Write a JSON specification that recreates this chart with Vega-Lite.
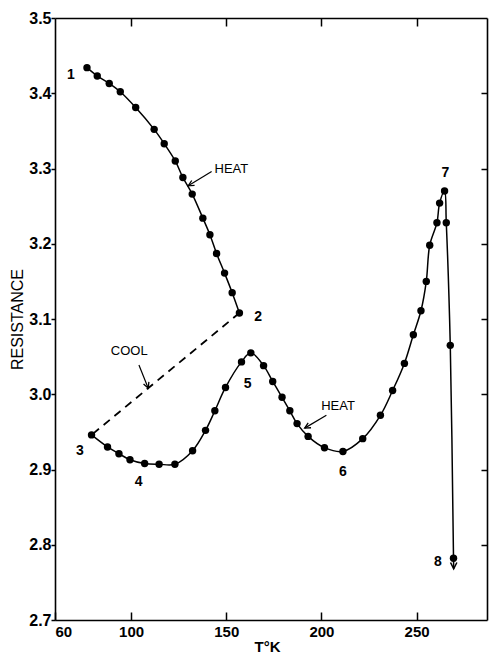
{
  "$schema": "https://vega.github.io/schema/vega-lite/v6.json",
  "width": 432,
  "height": 602,
  "autosize": "none",
  "padding": {"left": 55, "top": 18, "right": 2, "bottom": 34},
  "background": "white",
  "config": {
    "view": {"stroke": null},
    "axis": {
      "domainColor": "black", "domainWidth": 1.6,
      "tickColor": "black", "tickWidth": 1.5,
      "grid": false,
      "labelFont": "Liberation Sans", "labelFontSize": 15, "labelFontWeight": "bold", "labelColor": "black",
      "titleFont": "Liberation Sans", "titleFontSize": 15, "titleColor": "black", "titleFontWeight": "normal"
    }
  },
  "datasets": {
    "pts": [
      {"seg": "a", "i": 1, "T": 76.8, "R": 3.434, "dot": true},
      {"seg": "a", "i": 2, "T": 82.2, "R": 3.423, "dot": true},
      {"seg": "a", "i": 3, "T": 88.5, "R": 3.413, "dot": true},
      {"seg": "a", "i": 4, "T": 94.3, "R": 3.402, "dot": true},
      {"seg": "a", "i": 5, "T": 102.4, "R": 3.381, "dot": true},
      {"seg": "a", "i": 6, "T": 112.1, "R": 3.352, "dot": true},
      {"seg": "a", "i": 7, "T": 117.4, "R": 3.333, "dot": true},
      {"seg": "a", "i": 8, "T": 123.2, "R": 3.310, "dot": true},
      {"seg": "a", "i": 9, "T": 127.2, "R": 3.288, "dot": true},
      {"seg": "a", "i": 10, "T": 132.1, "R": 3.266, "dot": true},
      {"seg": "a", "i": 11, "T": 137.7, "R": 3.234, "dot": true},
      {"seg": "a", "i": 12, "T": 141.4, "R": 3.212, "dot": true},
      {"seg": "a", "i": 13, "T": 144.9, "R": 3.187, "dot": true},
      {"seg": "a", "i": 14, "T": 149.1, "R": 3.161, "dot": true},
      {"seg": "a", "i": 15, "T": 153.1, "R": 3.135, "dot": true},
      {"seg": "a", "i": 16, "T": 156.9, "R": 3.108, "dot": true},
      {"seg": "b", "i": 17, "T": 79.2, "R": 2.946, "dot": true},
      {"seg": "b", "i": 18, "T": 87.6, "R": 2.930, "dot": true},
      {"seg": "b", "i": 19, "T": 93.6, "R": 2.921, "dot": true},
      {"seg": "b", "i": 20, "T": 99.4, "R": 2.913, "dot": true},
      {"seg": "b", "i": 21, "T": 107.1, "R": 2.908, "dot": true},
      {"seg": "b", "i": 22, "T": 114.7, "R": 2.907, "dot": true},
      {"seg": "b", "i": 23, "T": 123.0, "R": 2.907, "dot": true},
      {"seg": "b", "i": 24, "T": 132.3, "R": 2.925, "dot": true},
      {"seg": "b", "i": 25, "T": 139.1, "R": 2.952, "dot": true},
      {"seg": "b", "i": 26, "T": 144.0, "R": 2.978, "dot": true},
      {"seg": "b", "i": 27, "T": 149.6, "R": 3.009, "dot": true},
      {"seg": "b", "i": 28, "T": 158.0, "R": 3.043, "dot": true},
      {"seg": "b", "i": 29, "T": 162.9, "R": 3.055, "dot": true},
      {"seg": "b", "i": 30, "T": 169.6, "R": 3.038, "dot": true},
      {"seg": "b", "i": 31, "T": 174.4, "R": 3.017, "dot": true},
      {"seg": "b", "i": 32, "T": 179.3, "R": 2.996, "dot": true},
      {"seg": "b", "i": 33, "T": 183.4, "R": 2.978, "dot": true},
      {"seg": "b", "i": 34, "T": 187.2, "R": 2.961, "dot": true},
      {"seg": "b", "i": 35, "T": 193.0, "R": 2.944, "dot": true},
      {"seg": "b", "i": 36, "T": 201.6, "R": 2.929, "dot": true},
      {"seg": "b", "i": 37, "T": 211.3, "R": 2.924, "dot": true},
      {"seg": "b", "i": 38, "T": 221.7, "R": 2.941, "dot": true},
      {"seg": "b", "i": 39, "T": 231.0, "R": 2.972, "dot": true},
      {"seg": "b", "i": 40, "T": 237.4, "R": 3.005, "dot": true},
      {"seg": "b", "i": 41, "T": 243.6, "R": 3.041, "dot": true},
      {"seg": "b", "i": 42, "T": 248.3, "R": 3.079, "dot": true},
      {"seg": "b", "i": 43, "T": 252.3, "R": 3.111, "dot": true},
      {"seg": "b", "i": 44, "T": 255.1, "R": 3.150, "dot": true},
      {"seg": "b", "i": 45, "T": 256.9, "R": 3.198, "dot": true},
      {"seg": "b", "i": 46, "T": 260.7, "R": 3.228, "dot": true},
      {"seg": "b", "i": 47, "T": 262.1, "R": 3.254, "dot": true},
      {"seg": "b", "i": 48, "T": 264.7, "R": 3.270, "dot": true},
      {"seg": "b", "i": 49, "T": 265.6, "R": 3.228, "dot": true},
      {"seg": "b", "i": 50, "T": 267.7, "R": 3.065, "dot": true},
      {"seg": "b", "i": 51, "T": 269.4, "R": 2.782, "dot": true},
      {"seg": "b", "i": 52, "T": 269.5, "R": 2.768, "dot": false}
    ],
    "cool": [
      {"i": 1, "T": 156.9, "R": 3.108},
      {"i": 2, "T": 79.2, "R": 2.946}
    ],
    "nums": [
      {"t": "1", "T": 68.4, "R": 3.424},
      {"t": "2", "T": 166.7, "R": 3.102},
      {"t": "3", "T": 73.1, "R": 2.924},
      {"t": "4", "T": 104.0, "R": 2.883},
      {"t": "5", "T": 161.2, "R": 3.014},
      {"t": "6", "T": 211.3, "R": 2.897},
      {"t": "7", "T": 265.1, "R": 3.294},
      {"t": "8", "T": 261.2, "R": 2.777}
    ],
    "words": [
      {"a": "h1", "t": "HEAT", "T": 152.7, "R": 3.300, "T0": 142.3, "R0": 3.296, "T2": 130.0, "R2": 3.277},
      {"a": "c", "t": "COOL", "T": 99.0, "R": 3.058, "T0": 104.1, "R0": 3.039, "T2": 109.0, "R2": 3.008},
      {"a": "h2", "t": "HEAT", "T": 208.7, "R": 2.984, "T0": 202.6, "R0": 2.972, "T2": 191.2, "R2": 2.955}
    ]
  },
  "layer": [
    {
      "data": {"name": "pts"},
      "mark": {"type": "line", "interpolate": "catmull-rom", "color": "black", "strokeWidth": 1.5},
      "encoding": {
        "x": {"field": "T", "type": "quantitative", "scale": {"domain": [60, 287], "nice": false, "zero": false},
          "axis": {"orient": "bottom", "values": [60, 100, 150, 200, 250], "tickSize": -8, "labelPadding": 12, "title": "T°K", "titleFontSize": 15, "titleFontWeight": "bold", "titlePadding": 0, "titleX": 212}},
        "y": {"field": "R", "type": "quantitative", "scale": {"domain": [2.7, 3.5], "nice": false, "zero": false},
          "axis": {"orient": "left", "values": [2.7, 2.8, 2.9, 3.0, 3.1, 3.2, 3.3, 3.4, 3.5], "format": ".1f", "labelFontSize": 16, "tickSize": 4, "labelPadding": 0, "title": "RESISTANCE", "titleFontSize": 16, "titlePadding": 3}},
        "detail": {"field": "seg"},
        "order": {"field": "i"}
      }
    },
    {
      "data": {"name": "pts"},
      "transform": [{"filter": "datum.dot"}],
      "mark": {"type": "point", "filled": true, "color": "black", "size": 55, "opacity": 1},
      "encoding": {
        "x": {"field": "T", "type": "quantitative", "scale": {"domain": [60, 287], "nice": false, "zero": false},
          "axis": {"orient": "top", "values": [100, 150, 200, 250], "tickSize": -8, "labels": false, "title": null}},
        "y": {"field": "R", "type": "quantitative", "scale": {"domain": [2.7, 3.5], "nice": false, "zero": false},
          "axis": {"orient": "right", "values": [2.8, 2.9, 3.0, 3.1, 3.2, 3.3, 3.4], "tickSize": -6, "labels": false, "title": null}}
      }
    },
    {
      "data": {"name": "cool"},
      "mark": {"type": "line", "color": "black", "strokeWidth": 1.8, "strokeDash": [8, 6]},
      "encoding": {
        "x": {"field": "T", "type": "quantitative", "axis": null},
        "y": {"field": "R", "type": "quantitative", "axis": null},
        "order": {"field": "i"}
      }
    },
    {
      "data": {"name": "nums"},
      "mark": {"type": "text", "font": "Liberation Sans", "fontSize": 14, "fontWeight": "bold", "color": "black", "align": "center", "baseline": "middle"},
      "encoding": {
        "x": {"field": "T", "type": "quantitative", "axis": null},
        "y": {"field": "R", "type": "quantitative", "axis": null},
        "text": {"field": "t"}
      }
    },
    {
      "data": {"name": "words"},
      "mark": {"type": "text", "font": "Liberation Sans", "fontSize": 13, "color": "black", "align": "center", "baseline": "middle"},
      "encoding": {
        "x": {"field": "T", "type": "quantitative", "axis": null},
        "y": {"field": "R", "type": "quantitative", "axis": null},
        "text": {"field": "t"}
      }
    },
    {
      "data": {"name": "words"},
      "mark": {"type": "rule", "color": "black", "strokeWidth": 1.2},
      "encoding": {
        "x": {"field": "T0", "type": "quantitative", "axis": null},
        "y": {"field": "R0", "type": "quantitative", "axis": null},
        "x2": {"field": "T2"},
        "y2": {"field": "R2"}
      }
    },
    {
      "data": {"name": "words"},
      "transform": [{"filter": "datum.a !== 'c'"}],
      "mark": {"type": "point", "shape": "M-0.45,0.9L0,0L0.45,0.9", "filled": false, "color": "black", "strokeWidth": 1.3, "size": 160, "angle": 240, "opacity": 1},
      "encoding": {
        "x": {"field": "T2", "type": "quantitative", "axis": null},
        "y": {"field": "R2", "type": "quantitative", "axis": null}
      }
    },
    {
      "data": {"name": "words"},
      "transform": [{"filter": "datum.a === 'c'"}],
      "mark": {"type": "point", "shape": "M-0.45,0.9L0,0L0.45,0.9", "filled": false, "color": "black", "strokeWidth": 1.3, "size": 160, "angle": 159, "opacity": 1},
      "encoding": {
        "x": {"field": "T2", "type": "quantitative", "axis": null},
        "y": {"field": "R2", "type": "quantitative", "axis": null}
      }
    },
    {
      "data": {"name": "pts"},
      "transform": [{"filter": "!datum.dot"}],
      "mark": {"type": "point", "shape": "M-0.45,0.9L0,0L0.45,0.9", "filled": false, "color": "black", "strokeWidth": 1.5, "size": 200, "angle": 180, "opacity": 1},
      "encoding": {
        "x": {"field": "T", "type": "quantitative", "axis": null},
        "y": {"field": "R", "type": "quantitative", "axis": null}
      }
    }
  ],
  "resolve": {"axis": {"x": "independent", "y": "independent"}}
}
